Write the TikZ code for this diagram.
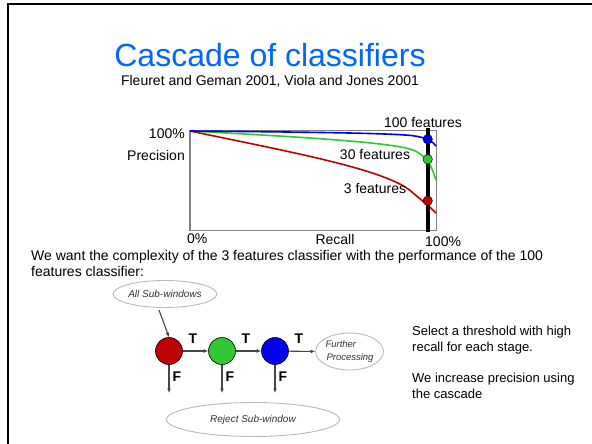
\documentclass[tikz,border=0pt]{standalone}
\usepackage{fontspec}
\setmainfont{Liberation Sans}
\usetikzlibrary{arrows.meta,shapes.geometric}
\definecolor{titleblue}{RGB}{0,102,255}
\definecolor{cred}{RGB}{190,0,0}
\definecolor{cgreen}{RGB}{50,200,50}
\definecolor{cblue}{RGB}{0,0,235}
\definecolor{boxgray}{RGB}{128,128,128}
\definecolor{flowgray}{RGB}{70,70,70}
\definecolor{ellgray}{RGB}{185,185,185}
\definecolor{txtgray}{RGB}{50,50,50}
\tikzset{
  lbl/.style={inner sep=0pt, text=black},
  curve/.style={line width=1.6pt},
  dot/.style={circle, draw=black, line width=0.4pt, minimum size=9.5pt, inner sep=0pt},
  stage/.style={circle, draw=black, line width=0.6pt, minimum size=27pt, inner sep=0pt},
  flow/.style={draw=flowgray, line width=1.1pt, -{Latex[length=4.5pt,width=4pt]}},
  oval/.style={ellipse, draw=ellgray, line width=0.9pt, inner sep=0pt, font=\fontsize{10}{11}\selectfont\itshape, text=txtgray},
  tf/.style={inner sep=0pt, font=\fontsize{14}{14}\selectfont\bfseries, text=black},
}
\begin{document}
\begin{tikzpicture}[x=1pt,y=-1pt]
\useasboundingbox (0,0) rectangle (592,444);
\fill[white] (0,0) rectangle (592,444);
% slide frame (top and left edges)
\draw[line width=2pt] (7.5,444) -- (7.5,4.5) -- (592,4.5);

% heading
\node[lbl, text=titleblue, font=\fontsize{32}{32}\selectfont] (title) at (270,55) {Cascade of classifiers};
\node[lbl, font=\fontsize{14}{14}\selectfont] (sub) at (270,81) {Fleuret and Geman 2001, Viola and Jones 2001};

% precision / recall plot
\draw[boxgray, line width=1.2pt] (190,130.7) rectangle (436.7,230.7);
\draw[cred, curve] (190,131) .. controls (290,152) and (390,170) .. (413,193)
  .. controls (425,203) and (430,207) .. (436,213);
\draw[cgreen, curve] (190,131) .. controls (300,137) and (390,142) .. (413,150)
  .. controls (428,156) and (432,168) .. (436,180);
\draw[cblue, curve] (190,131) .. controls (300,132) and (390,133) .. (413,135.7)
  .. controls (428,138) and (432,141) .. (436,146);
\draw[line width=4pt] (427.7,128.3) -- (427.7,231.5);
\node[dot, fill=cblue] (d100) at (427.7,139.3) {};
\node[dot, fill=cgreen] (d30) at (427.7,159.3) {};
\node[dot, fill=cred] (d3) at (427.7,200.7) {};
\node[lbl, font=\fontsize{14}{14}\selectfont] (l100) at (423,123) {100 features};
\node[lbl, font=\fontsize{14}{14}\selectfont] (l30) at (375,155) {30 features};
\node[lbl, font=\fontsize{14}{14}\selectfont] (l3) at (375,189) {3 features};
\node[lbl, anchor=east, font=\fontsize{14}{14}\selectfont] (ptop) at (185,134) {100\%};
\node[lbl, anchor=east, font=\fontsize{14}{14}\selectfont] (prec) at (185,155) {Precision};
\node[lbl, anchor=west, font=\fontsize{14}{14}\selectfont] (r0) at (187,239) {0\%};
\node[lbl, font=\fontsize{14}{14}\selectfont] (rec) at (335,239) {Recall};
\node[lbl, anchor=west, font=\fontsize{14}{14}\selectfont] (r100) at (425,242) {100\%};

% explanatory text
\node[lbl, anchor=north west, align=left, font=\fontsize{14}{16}\selectfont] (goal) at (31,250)
  {We want the complexity of the 3 features classifier with the performance of the 100\\features classifier:};
\node[lbl, anchor=north west, align=left, font=\fontsize{13}{16}\selectfont] (note1) at (412,326)
  {Select a threshold with high\\recall for each stage.};
\node[lbl, anchor=north west, align=left, font=\fontsize{13}{16}\selectfont] (note2) at (412,373)
  {We increase precision using\\the cascade};

% cascade of stages
\node[oval, minimum width=92pt, minimum height=27pt] (all) at (165,294) {All Sub-windows};
\node[stage, fill=cred] (s1) at (169,351) {};
\node[stage, fill=cgreen] (s2) at (222,351) {};
\node[stage, fill=cblue] (s3) at (275,351) {};
\node[oval, minimum width=65pt, minimum height=37pt, align=left, font=\fontsize{9.5}{12.5}\selectfont\itshape] (further) at (349.5,351.5) {Further\\\hspace*{1pt}Processing};
\node[oval, minimum width=173pt, minimum height=34pt] (reject) at (253,419.5) {Reject Sub-window};
\coordinate (f1) at (169,393);
\coordinate (f2) at (222,393);
\coordinate (f3) at (275,393);

\draw[flow] (all.south) ++(-6,2) coordinate (astart) -- (s1.north);
\draw[flow] (s1) -- (s2);
\draw[flow] (s2) -- (s3);
\draw[flow] (s3) -- (further.west);
\draw[flow] (s1) -- (f1);
\draw[flow] (s2) -- (f2);
\draw[flow] (s3) -- (f3);
\node[tf] (t1) at (193,339) {T};
\node[tf] (t2) at (246,339) {T};
\node[tf] (t3) at (299,339) {T};
\node[tf] (e1) at (177,377) {F};
\node[tf] (e2) at (230,377) {F};
\node[tf] (e3) at (283,377) {F};
\end{tikzpicture}
\end{document}
